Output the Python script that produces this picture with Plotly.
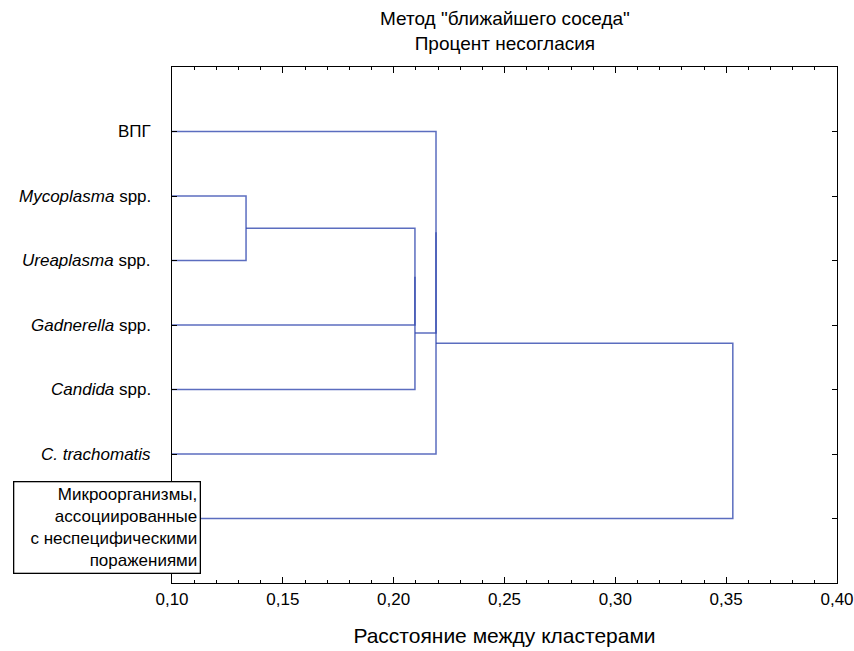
import plotly.graph_objects as go

# ---- data ----
leaf_labels = ["ВПГ", "<i>Mycoplasma</i> spp.", "<i>Ureaplasma</i> spp.",
               "<i>Gadnerella</i> spp.", "<i>Candida</i> spp.", "<i>C. trachomatis</i>",
               "Микроорганизмы,<br>ассоциированные<br>с неспецифическими<br>поражениями"]
leaf_positions = [1, 2, 3, 4, 5, 6, 7]
# merges: (child a, child b) — ids < 7 are leaves, ids >= 7 are earlier merges
merge_pairs = [(1, 2), (7, 3), (8, 4), (0, 9), (10, 5), (11, 6)]
merge_heights = [0.1334, 0.2096, 0.2096, 0.2191, 0.2191, 0.353]
x_min, x_max = 0.10, 0.40
x_ticks = [0.10, 0.15, 0.20, 0.25, 0.30, 0.35, 0.40]

FONT = "Liberation Sans, Arial, sans-serif"
LINE = "rgba(50,72,175,0.8)"

fig = go.Figure()

node_x = {i: x_min for i in range(len(leaf_labels))}
node_y = {i: leaf_positions[i] for i in range(len(leaf_labels))}
n = len(leaf_labels)
for k, ((a, b), h) in enumerate(zip(merge_pairs, merge_heights)):
    fig.add_trace(go.Scatter(
        x=[node_x[a], h, h, node_x[b]],
        y=[node_y[a], node_y[a], node_y[b], node_y[b]],
        mode="lines", line=dict(color=LINE, width=1.5),
        hoverinfo="skip", showlegend=False))
    node_x[n + k] = h
    node_y[n + k] = (node_y[a] + node_y[b]) / 2

annotations = []
for i, (lab, pos) in enumerate(zip(leaf_labels, leaf_positions)):
    if i == len(leaf_labels) - 1:
        annotations.append(dict(
            x=0, xref="paper", y=pos, yref="y", text=lab, showarrow=False,
            xanchor="right", yanchor="middle", align="right", xshift=29, yshift=-9,
            font=dict(family=FONT, size=17, color="black"),
            bordercolor="black", borderwidth=1.3, borderpad=2, bgcolor="white",
            width=181, height=86))
    else:
        annotations.append(dict(
            x=0, xref="paper", y=pos, yref="y", text=lab, showarrow=False,
            xanchor="right", yanchor="middle", xshift=-19,
            font=dict(family=FONT, size=17, color="black")))

annotations.append(dict(x=0.5, xref="paper", y=1, yref="paper", yshift=36,
                        yanchor="middle",
                        text='Метод "ближайшего соседа"<br>Процент несогласия',
                        showarrow=False,
                        font=dict(family=FONT, size=19, color="black")))

fig.update_layout(
    width=854, height=651, autosize=False,
    margin=dict(l=172, r=17, t=67, b=68),
    paper_bgcolor="white", plot_bgcolor="white",
    separators=", ",
    font=dict(family=FONT, color="black"),
    annotations=annotations,
    xaxis=dict(range=[x_min, x_max], tickvals=x_ticks, tickformat=".2f",
               automargin=False,
               showgrid=False, zeroline=False,
               showline=True, linecolor="black", linewidth=1.3, mirror="ticks",
               ticks="inside", ticklen=6, tickcolor="black", tickwidth=1.2,
               minor=dict(dtick=0.01, ticks="inside", ticklen=3, tickcolor="black", showgrid=False),
               tickfont=dict(family=FONT, size=17, color="black"),
               title=dict(text="Расстояние между кластерами",
                          font=dict(family=FONT, size=21, color="black"), standoff=20)),
    yaxis=dict(range=[8, 0], tickvals=leaf_positions, showticklabels=False,
               automargin=False,
               showgrid=False, zeroline=False,
               showline=True, linecolor="black", linewidth=1.3, mirror="ticks",
               ticks="inside", ticklen=5, tickcolor="black", tickwidth=1.2),
)

fig.write_html("out.html", config={"responsive": False})
